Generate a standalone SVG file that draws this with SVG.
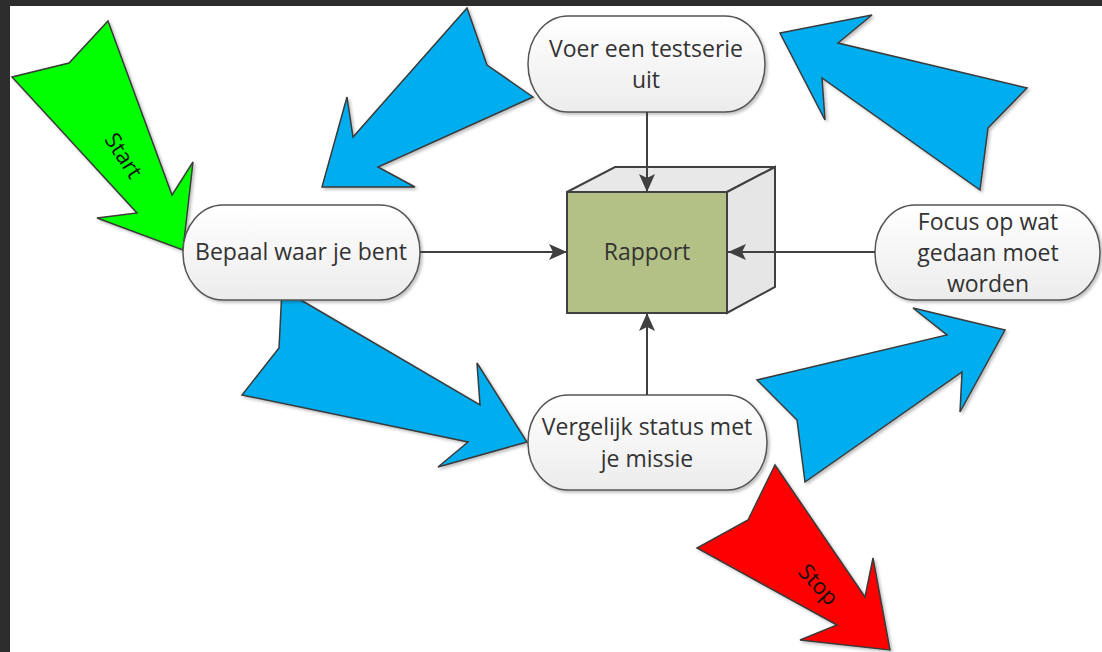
<svg xmlns="http://www.w3.org/2000/svg" width="1102" height="652" viewBox="0 0 1102 652">
  <defs>
    <linearGradient id="nodeGrad" x1="0" y1="0" x2="0" y2="1">
      <stop offset="0" stop-color="#ffffff"/>
      <stop offset="1" stop-color="#ececec"/>
    </linearGradient>
    <filter id="shadow" x="-10%" y="-10%" width="130%" height="130%">
      <feDropShadow dx="2" dy="2" stdDeviation="1.5" flood-color="#000" flood-opacity="0.25"/>
    </filter>
    <marker id="arr" viewBox="0 0 20 20" refX="19" refY="10" markerWidth="20" markerHeight="20" orient="auto" markerUnits="userSpaceOnUse">
      <path d="M1,2 L19,10 L1,18 L5,10 z" fill="#404040"/>
    </marker>
  </defs>
  <style>
    .node { fill: url(#nodeGrad); stroke: #555555; stroke-width: 1.5; filter: url(#shadow); }
    .label { font-family: "Open Sans", "Liberation Sans", sans-serif; font-size: 23px; fill: #333333; text-anchor: middle; }
    .big { stroke: #3a3a3a; stroke-width: 1.5; stroke-linejoin: miter; filter: url(#shadow); }
    .blue { fill: #00aeef; }
    .conn { stroke: #404040; stroke-width: 2; fill: none; marker-end: url(#arr); }
    .cube { stroke: #404040; stroke-width: 2; stroke-linejoin: miter; }
    .tag { font-family: "Open Sans", "Liberation Sans", sans-serif; font-size: 22px; fill: #111111; text-anchor: middle; }
  </style>

  <!-- background frame -->
  <rect x="0" y="0" width="1102" height="652" fill="#2d2d2d"/>
  <rect x="10" y="6" width="1092" height="646" fill="#ffffff"/>

  <!-- big process arrows -->
  <g id="arrow-start">
    <polygon class="big" fill="#00ff00" points="108,21 172,195 193,162 183,250 97,218 137,213 12,77 69,63"/>
    <text class="tag" transform="translate(123,156) rotate(57)" dy="7">Start</text>
  </g>
  <g id="arrow-voer-bepaal">
    <polygon class="big blue" points="467,8 353,137 347,97 322,187 415,187 378,167 533,97 487,65"/>
  </g>
  <g id="arrow-bepaal-vergelijk">
    <polygon class="big blue" points="282,289 480,405 477,363 527,442 438,467 468,442 242,395 279,348"/>
  </g>
  <g id="arrow-vergelijk-focus">
    <polygon class="big blue" points="1005,330 913,308 947,335 757,380 797,420 805,482 962,372 960,412"/>
  </g>
  <g id="arrow-focus-voer">
    <polygon class="big blue" points="780,33 872,15 838,43 1027,88 988,128 980,190 822,78 825,120"/>
  </g>
  <g id="arrow-stop">
    <polygon class="big" fill="#ff0000" points="775,465 865,597 873,558 890,650 800,640 837,625 697,548 748,520"/>
    <text class="tag" transform="translate(818,585) rotate(47)" dy="7">Stop</text>
  </g>

  <!-- nodes -->
  <g id="node-voer">
    <rect class="node" x="528" y="16" width="237" height="96" rx="40" ry="48"/>
    <text class="label" x="646" y="57">Voer een testserie</text>
    <text class="label" x="646" y="88">uit</text>
  </g>
  <g id="node-bepaal">
    <rect class="node" x="183" y="205" width="237" height="95" rx="40" ry="47"/>
    <text class="label" x="301" y="260">Bepaal waar je bent</text>
  </g>
  <g id="node-focus">
    <rect class="node" x="875" y="205" width="225" height="95" rx="40" ry="47"/>
    <text class="label" x="988" y="230">Focus op wat</text>
    <text class="label" x="988" y="261">gedaan moet</text>
    <text class="label" x="988" y="292">worden</text>
  </g>
  <g id="node-vergelijk">
    <rect class="node" x="528" y="395" width="239" height="95" rx="40" ry="47"/>
    <text class="label" x="647" y="435">Vergelijk status met</text>
    <text class="label" x="647" y="467">je missie</text>
  </g>
  <g id="node-rapport">
    <polygon class="cube" fill="#e8e8e8" points="567,192 615,167 775,167 727,192"/>
    <polygon class="cube" fill="#e6e6e6" points="727,192 775,167 775,287 727,313"/>
    <rect class="cube" fill="#b3c186" x="567" y="192" width="160" height="121"/>
    <text class="label" x="647" y="260">Rapport</text>
  </g>

  <!-- connectors -->
  <g id="connectors">
    <line class="conn" x1="647" y1="112" x2="647" y2="192"/>
    <line class="conn" x1="420" y1="252" x2="567" y2="252"/>
    <line class="conn" x1="875" y1="252" x2="728" y2="252"/>
    <line class="conn" x1="647" y1="395" x2="647" y2="313"/>
  </g>
</svg>
